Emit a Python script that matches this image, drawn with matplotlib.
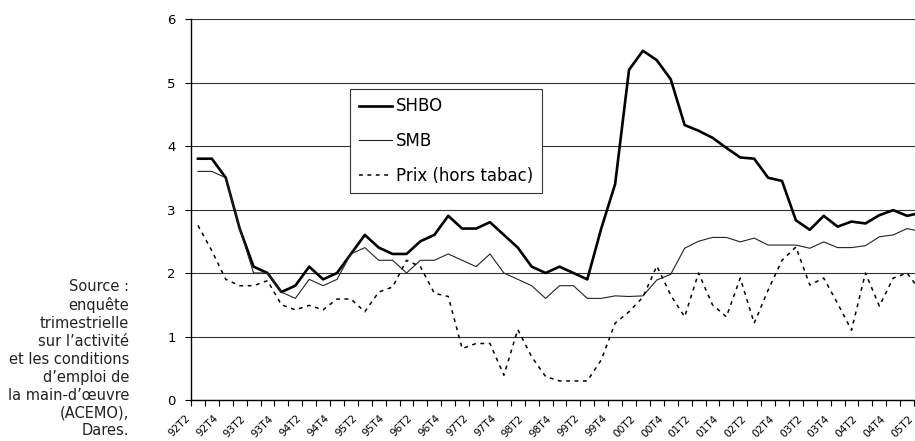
import numpy as np
import matplotlib.pyplot as plt
import matplotlib.transforms as mtransforms

# quarterly growth rates (%), 92T2 .. 05T2
shbo = [3.8, 3.8, 3.5, 2.7, 2.1, 2.0, 1.7, 1.8, 2.1, 1.9,
        2.0, 2.3, 2.6, 2.4, 2.3, 2.3, 2.5, 2.6, 2.9, 2.7,
        2.7, 2.8, 2.6, 2.4, 2.1, 2.0, 2.1, 2.0, 1.9, 2.7,
        3.4, 5.2, 5.5, 5.35, 5.05, 4.33, 4.24, 4.13, 3.97, 3.82,
        3.8, 3.5, 3.45, 2.83, 2.68, 2.9, 2.73, 2.81, 2.78, 2.91,
        2.99, 2.9, 2.95]
smb = [3.6, 3.6, 3.5, 2.7, 2.0, 2.0, 1.7, 1.6, 1.9, 1.8,
       1.9, 2.3, 2.4, 2.2, 2.2, 2.0, 2.2, 2.2, 2.3, 2.2,
       2.1, 2.3, 2.0, 1.9, 1.8, 1.6, 1.8, 1.8, 1.6, 1.6,
       1.64, 1.63, 1.64, 1.89, 1.98, 2.39, 2.5, 2.56, 2.56, 2.49,
       2.55, 2.44, 2.44, 2.44, 2.39, 2.49, 2.4, 2.4, 2.43, 2.57,
       2.6, 2.7, 2.65]
prix = [2.75, 2.35, 1.9, 1.8, 1.8, 1.88, 1.5, 1.42, 1.49, 1.42,
        1.59, 1.59, 1.39, 1.7, 1.78, 2.2, 2.1, 1.68, 1.63, 0.81,
        0.89, 0.89, 0.39, 1.11, 0.68, 0.37, 0.3, 0.3, 0.3, 0.63,
        1.21, 1.39, 1.62, 2.11, 1.65, 1.31, 2.0, 1.5, 1.31, 1.92,
        1.21, 1.73, 2.2, 2.41, 1.81, 1.92, 1.52, 1.1, 2.0, 1.48,
        1.92, 2.0, 1.7]

tick_labels = ["92T2", "92T4", "93T2", "93T4", "94T2", "94T4", "95T2",
               "95T4", "96T2", "96T4", "97T2", "97T4", "98T2", "98T4",
               "99T2", "99T4", "00T2", "00T4", "01T2", "01T4", "02T2",
               "02T4", "03T2", "03T4", "04T2", "04T4", "05T2"]

source_text = ("Source :\nenquête\ntrimestrielle\nsur l\u2019activité\n"
               "et les conditions\nd\u2019emploi de\nla main-d\u2019\u0153uvre\n"
               "(ACEMO),\nDares.")

plt.rcParams["font.family"] = ["DejaVu Sans"]

fig = plt.figure(figsize=(9.15, 4.41), dpi=100)
# plot area runs past the right edge of the picture (cropped like the original)
ax = fig.add_axes([191 / 915, 41 / 441, 737 / 915, 381 / 441])

x = np.arange(len(shbo))
ax.plot(x, shbo, color="black", lw=1.9, label="SHBO", zorder=3)
ax.plot(x, smb, color="#222222", lw=0.8, label="SMB", zorder=3)
ax.plot(x, prix, color="black", lw=1.1, linestyle=(0, (2.5, 3)),
        label="Prix (hors tabac)", zorder=3)

ax.set_xlim(-0.5, len(shbo) - 0.5)
ax.set_ylim(0, 6)

ax.set_yticks(range(0, 7))
ax.yaxis.grid(True, color="#333333", lw=0.8)
ax.set_axisbelow(True)
ax.tick_params(axis="y", direction="out", length=4, width=0.8,
               labelsize=9.5, pad=7)

ax.set_xticks(np.arange(-0.5, len(shbo)), minor=True)
ax.set_xticks(x[::2])
ax.set_xticklabels(tick_labels, rotation=45, ha="right", va="top",
                   rotation_mode="anchor", fontsize=7.6)
ax.tick_params(axis="x", which="major", length=0, pad=6)
ax.tick_params(axis="x", which="minor", direction="out", length=4, width=0.8)
shift = mtransforms.ScaledTranslation(-13 / 100, -5 / 100, fig.dpi_scale_trans)
for lab in ax.get_xticklabels():
    lab.set_transform(lab.get_transform() + shift)

for s in ["top", "right"]:
    ax.spines[s].set_visible(False)
ax.spines["left"].set_linewidth(1.0)
ax.spines["bottom"].set_linewidth(1.0)

leg = ax.legend(loc="upper left", bbox_to_anchor=(0.216, 0.816),
                frameon=True, fancybox=False, edgecolor="#333333",
                framealpha=1, fontsize=12, handlelength=2.0,
                labelspacing=1.0, borderpad=0.5, handletextpad=0.25,
                borderaxespad=0)
leg.get_frame().set_linewidth(0.8)

fig.text(129 / 915, 1 - 279 / 441, source_text, ha="right", va="top",
         fontsize=10.5, linespacing=1.24, color="#222222")

fig.savefig("out.png", dpi=100)
